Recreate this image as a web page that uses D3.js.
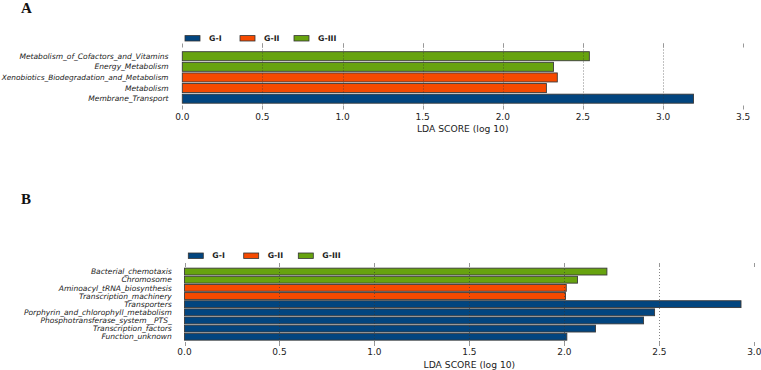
<!DOCTYPE html>
<html><head><meta charset="utf-8">
<script src="https://cdn.jsdelivr.net/npm/d3@7"></script>
<style>
html,body{margin:0;padding:0;background:#fff;}
svg{display:block;}
</style></head>
<body>
<svg id="c" width="761" height="370"></svg>
<script>
// Panel A data (top to bottom)
const catsA = ["Metabolism_of_Cofactors_and_Vitamins","Energy_Metabolism","Xenobiotics_Biodegradation_and_Metabolism","Metabolism","Membrane_Transport"];
const valsA = [2.54, 2.316, 2.34, 2.272, 3.19];
const grpA  = ["G-III","G-III","G-II","G-II","G-I"];
const ticksA = [0,0.5,1.0,1.5,2.0,2.5,3.0,3.5];

// Panel B data (top to bottom)
const catsB = ["Bacterial_chemotaxis","Chromosome","Aminoacyl_tRNA_biosynthesis","Transcription_machinery","Transporters","Porphyrin_and_chlorophyll_metabolism","Phosphotransferase_system__PTS_","Transcription_factors","Function_unknown"];
const valsB = [2.224, 2.069, 2.01, 2.006, 2.93, 2.475, 2.417, 2.164, 2.013];
const grpB  = ["G-III","G-III","G-II","G-II","G-I","G-I","G-I","G-I","G-I"];
const ticksB = [0,0.5,1.0,1.5,2.0,2.5,3.0];

const groups = ["G-I","G-II","G-III"];
const colors = ["#02457f","#f64a00","#67a30f"];
const color = d3.scaleOrdinal().domain(groups).range(colors);

const svg = d3.select("#c");
const FONT = "DejaVu Sans, sans-serif";

function panel(cfg){
  const g = svg.append("g");
  const x = d3.scaleLinear().domain(cfg.domain).range(cfg.xr);
  const y = d3.scaleBand().domain(cfg.cats).range(cfg.yr).paddingInner(cfg.pad).paddingOuter(cfg.pad/2);
  const maxT = d3.max(cfg.ticks);
  const px = v => Math.round(x(v)) + 0.5;

  // bars
  g.selectAll(".bar").data(cfg.cats).enter().append("rect")
    .attr("x", x(0)).attr("y", d=>y(d))
    .attr("width", (d,i)=>x(cfg.vals[i])-x(0))
    .attr("height", y.bandwidth())
    .attr("fill", (d,i)=>color(cfg.grp[i]))
    .attr("stroke","#3a3a3a").attr("stroke-width",0.9);

  // grid lines (drawn over bars, dotted)
  g.selectAll(".grid").data(cfg.ticks.filter(t=>t>0 && t<maxT)).enter().append("line")
    .attr("x1", px).attr("x2", px)
    .attr("y1", cfg.gridTop).attr("y2", cfg.gridBot)
    .attr("stroke","#333").attr("stroke-opacity",0.6).attr("stroke-width",1).attr("stroke-dasharray","1,2");
  // small tick marks top/bottom
  g.selectAll(".tt").data(cfg.ticks).enter().append("line")
    .attr("x1", px).attr("x2", px)
    .attr("y1", cfg.gridTop).attr("y2", cfg.gridTop+4)
    .attr("stroke","#999").attr("stroke-width",1);
  g.selectAll(".tb").data(cfg.ticks).enter().append("line")
    .attr("x1", px).attr("x2", px)
    .attr("y1", cfg.gridBot-4).attr("y2", cfg.gridBot)
    .attr("stroke","#999").attr("stroke-width",1);

  // y labels (shrunk if they would run past the left edge)
  g.selectAll(".yl").data(cfg.cats).enter().append("text")
    .attr("x", cfg.labelX).attr("y", d=>y(d)+y.bandwidth()/2)
    .attr("dy","0.35em").attr("text-anchor","end")
    .attr("font-family",FONT).attr("font-style","italic").attr("font-size",cfg.labelSize)
    .attr("fill","#222").text(d=>d)
    .each(function(){
      const w = this.getComputedTextLength();
      const avail = cfg.labelX - 1.5;
      if (w > avail) d3.select(this).attr("font-size", cfg.labelSize*avail/w);
    });

  // x tick labels
  g.selectAll(".xl").data(cfg.ticks).enter().append("text")
    .attr("x", d=>x(d)).attr("y", cfg.tickLabY)
    .attr("text-anchor","middle").attr("font-family",FONT).attr("font-size",9)
    .attr("fill","#222").text(d=>d3.format(".1f")(d));
  // axis title
  g.append("text").attr("x",(x.range()[0]+x.range()[1])/2).attr("y",cfg.titleY)
    .attr("text-anchor","middle").attr("font-family",FONT).attr("font-size",9.2)
    .attr("fill","#222").text("LDA SCORE (log 10)");

  // legend
  groups.forEach((gname,i)=>{
    const lx = cfg.legX[i];
    g.append("rect").attr("x",lx).attr("y",cfg.legY-2.7).attr("width",15).attr("height",5.4)
      .attr("fill",color(gname)).attr("stroke","#333").attr("stroke-width",0.8);
    g.append("text").attr("x",lx+24).attr("y",cfg.legY).attr("dy","0.35em")
      .attr("font-family",FONT).attr("font-weight","bold").attr("font-size",7.8)
      .attr("fill","#222").text(gname);
  });

  // panel letter
  g.append("text").attr("x",cfg.letterX).attr("y",cfg.letterY)
    .attr("font-family","Liberation Serif, serif").attr("font-weight","bold").attr("font-size",15)
    .attr("fill","#111").text(cfg.letter);
}

panel({cats:catsA, vals:valsA, grp:grpA, ticks:ticksA, domain:[0,3.5], xr:[182.3,743.2],
  yr:[50.9,104], pad:0.15, gridTop:43.5, gridBot:109.5, labelX:168.5, labelSize:7.55,
  tickLabY:119.5, titleY:131.5, legX:[185,240,294], legY:38.3, letter:"A", letterX:21, letterY:13});

panel({cats:catsB, vals:valsB, grp:grpB, ticks:ticksB, domain:[0,3.0], xr:[184.5,754.3],
  yr:[267.5,340.8], pad:0.16, gridTop:263, gridBot:346, labelX:171.8, labelSize:7.55,
  tickLabY:355, titleY:367.5, legX:[188.3,243.7,298.3], legY:255.7, letter:"B", letterX:21, letterY:204});
</script>
</body></html>
